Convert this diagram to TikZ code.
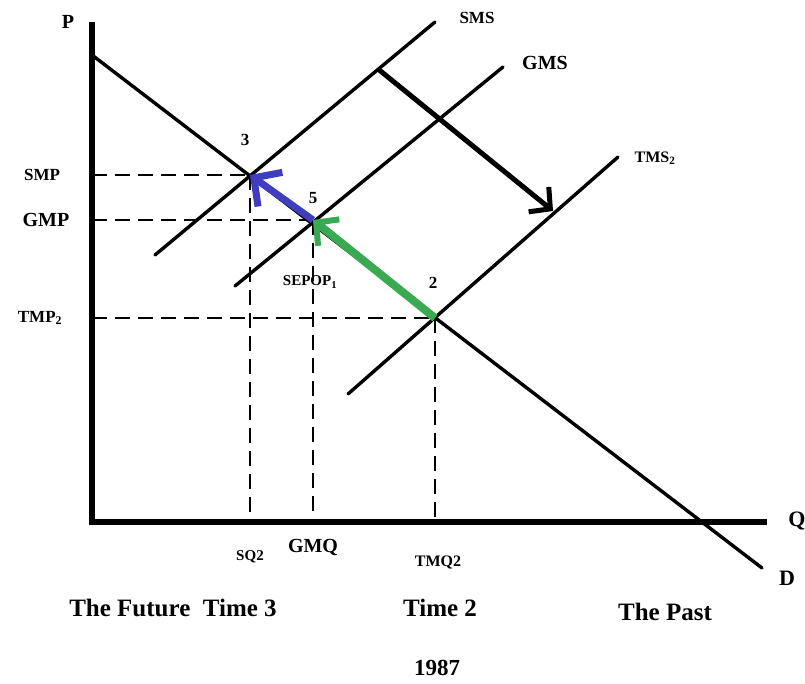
\documentclass[tikz,border=0pt]{standalone}
\usepackage{fontspec}
\setmainfont{Liberation Serif}
\usetikzlibrary{arrows.meta}
\definecolor{arrblue}{RGB}{62,62,190}
\definecolor{arrgreen}{RGB}{58,170,82}
\tikzset{
  lbl/.style={font=\bfseries\fontsize{#1}{#1}\selectfont, inner sep=0pt, text=black},
  axisline/.style={line width=6pt},
  curve/.style={line width=3.4pt, line cap=round},
  guide/.style={line width=2.2pt, dash pattern=on 15pt off 8pt},
  shiftarrow/.style={line width=5pt, -{Straight Barb[length=15pt,width=32pt,line width=5pt]}},
  greenarrow/.style={line width=8pt, arrgreen, -{Straight Barb[length=16pt,width=34pt,line width=6pt]}},
  bluearrow/.style={line width=7pt, arrblue, -{Straight Barb[length=20pt,width=42pt,line width=7pt]}}
}
\begin{document}
\begin{tikzpicture}[x=1pt,y=-1pt]
\useasboundingbox[fill=white] (0,0) rectangle (805,683);
% key coordinates
\coordinate (O) at (92,522);
\coordinate (Ptop) at (92,22);
\coordinate (Qend) at (767,522);
\coordinate (Dstart) at (92,55);
\coordinate (Dend) at (762,568);
\coordinate (p3) at (250,175);
\coordinate (p5) at (313,220);
\coordinate (p2) at (435,318);
\coordinate (smsA) at (155,255);
\coordinate (smsB) at (435,22);
\coordinate (gmsA) at (235,286);
\coordinate (gmsB) at (503,67);
\coordinate (tmsA) at (348,394);
\coordinate (tmsB) at (618,157);
\coordinate (shiftS) at (378,69);
\coordinate (shiftE) at (553,211);
\coordinate (yp3) at (92,175);
\coordinate (yp5) at (92,220);
\coordinate (yp2) at (92,318);
\coordinate (xp3) at (250,522);
\coordinate (xp5) at (313,522);
\coordinate (xp2) at (435,522);

% guides
\draw[guide] (yp3) -- (p3);
\draw[guide] (yp5) -- (p5);
\draw[guide] (yp2) -- (p2);
\draw[guide] (p3) -- (xp3);
\draw[guide] (p5) -- (xp5);
\draw[guide] (p2) -- (xp2);

% curves
\draw[curve] (Dstart) -- (Dend);
\draw[curve] (smsA) -- (smsB);
\draw[curve] (gmsA) -- (gmsB);
\draw[curve] (tmsA) -- (tmsB);

% axes
\draw[axisline] (Ptop) -- (O) -- (Qend);

% shift arrow
\draw[shiftarrow] (shiftS) -- (shiftE);

% movement arrows
\draw[greenarrow] (p2) -- (p5);
\draw[bluearrow] (p5) -- (p3);

% labels
\node[lbl=20] (lP) at (68,22) {P};
\node[lbl=17] (lSMP) at (42,175) {SMP};
\node[lbl=20] (lGMP) at (46,220) {GMP};
\node[lbl=17] (lTMP) at (40,318) {TMP\textsubscript{2}};
\node[lbl=17] (lSMS) at (477,18) {SMS};
\node[lbl=20] (lGMS) at (545,63) {GMS};
\node[lbl=16] (lTMS) at (655,158) {TMS\textsubscript{2}};
\node[lbl=17] (l3) at (245,140) {3};
\node[lbl=17] (l5) at (313,198) {5};
\node[lbl=17] (l2) at (433,283) {2};
\node[lbl=15] (lSEPOP) at (310,282) {SEPOP\textsubscript{1}};
\node[lbl=15] (lSQ) at (250,557) {SQ2};
\node[lbl=20] (lGMQ) at (313,547) {GMQ};
\node[lbl=16] (lTMQ) at (438,562) {TMQ2};
\node[lbl=22] (lQ) at (797,521) {Q};
\node[lbl=22] (lD) at (787,578) {D};
\node[lbl=25] (lFuture) at (173,608) {The Future\ \ Time 3};
\node[lbl=25] (lT2) at (440,608) {Time 2};
\node[lbl=25] (lPast) at (665,612) {The Past};
\node[lbl=23] (l1987) at (437,668) {1987};
\end{tikzpicture}
\end{document}
